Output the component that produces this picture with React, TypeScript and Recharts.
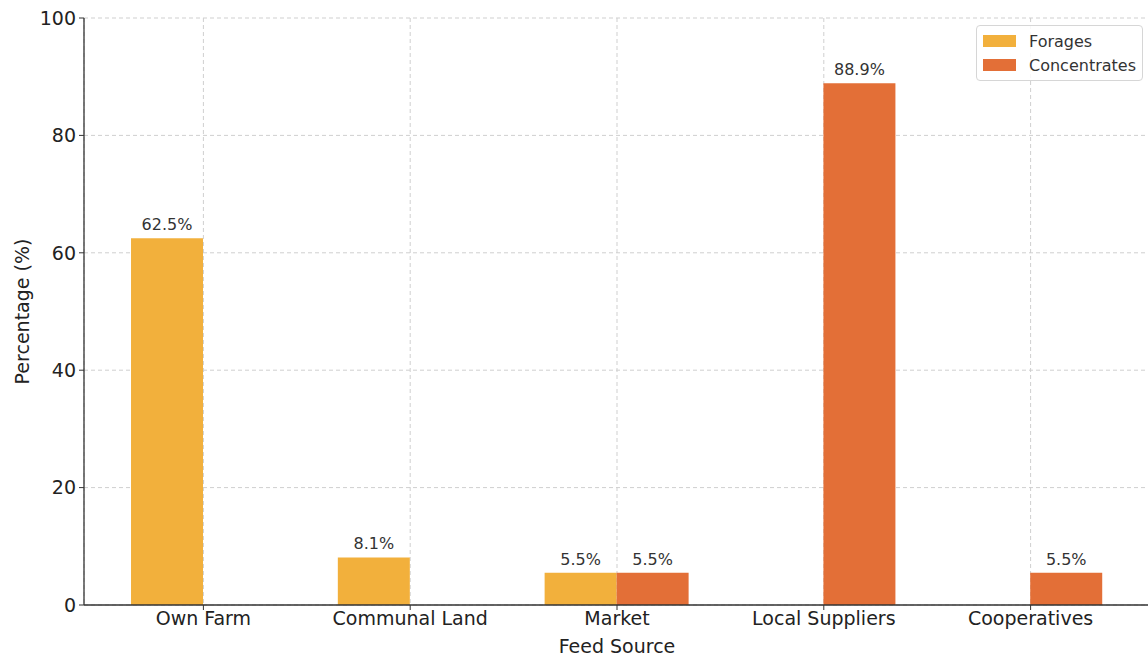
import React from "react";
import { BarChart, Bar, XAxis, YAxis, CartesianGrid, LabelList } from "recharts";

const sources = ["Own Farm", "Communal Land", "Market", "Local Suppliers", "Cooperatives"];
const forages = [62.5, 8.1, 5.5, 0, 0];
const concentrates = [0, 0, 5.5, 88.9, 5.5];
const yTicks = [0, 20, 40, 60, 80, 100];

const FORAGE_COLOR = "#F2B03C";
const CONC_COLOR = "#E36F37";
const FONT = "'DejaVu Sans', sans-serif";

const data = sources.map((name, i) => ({
  name,
  forages: forages[i],
  concentrates: concentrates[i],
}));

const legendItems = [
  { label: "Forages", color: FORAGE_COLOR },
  { label: "Concentrates", color: CONC_COLOR },
];

function ValueLabel(props: any) {
  const { x, y, width, value } = props;
  if (!value) return null;
  return (
    <text x={x + width / 2} y={y - 8} textAnchor="middle" fontSize={16} fill="#333" fontFamily={FONT}>
      {`${value}%`}
    </text>
  );
}

function LegendBox() {
  return (
    <div
      style={{
        position: "absolute",
        left: 976,
        top: 25,
        border: "1px solid #d6d6d6",
        borderRadius: 4,
        background: "rgba(255,255,255,0.85)",
        padding: "3px 6px 3px 6px",
        fontFamily: FONT,
        fontSize: 16,
        color: "#333",
      }}
    >
      {legendItems.map((it) => (
        <div key={it.label} style={{ display: "flex", alignItems: "center", height: 24 }}>
          <span style={{ width: 33, height: 12, background: it.color, marginRight: 13 }} />
          <span>{it.label}</span>
        </div>
      ))}
    </div>
  );
}

export default function App() {
  return (
    <div style={{ position: "absolute", left: 0, top: 0, width: 1148, height: 657, overflow: "hidden", background: "#fff" }}>
      <BarChart
        width={1150}
        height={657}
        data={data}
        margin={{ top: 18, right: 0, left: 0, bottom: 0 }}
        barCategoryGap="15%"
        barGap={0}
      >
        <CartesianGrid stroke="#cfcfcf" strokeDasharray="4 3" />
        <XAxis
          dataKey="name"
          height={52}
          padding={{ left: 16, right: 16 }}
          tick={{ fontSize: 19, fill: "#222", fontFamily: FONT }}
          tickSize={5}
          tickMargin={2}
          axisLine={{ stroke: "#333", strokeWidth: 1.3 }}
          tickLine={{ stroke: "#333" }}
          label={{ value: "Feed Source", position: "insideBottom", offset: 4, fontSize: 19, fill: "#222", fontFamily: FONT }}
        />
        <YAxis
          width={84}
          domain={[0, 100]}
          ticks={yTicks}
          tick={{ fontSize: 19, fill: "#222", fontFamily: FONT }}
          tickSize={5}
          tickMargin={3}
          axisLine={{ stroke: "#333", strokeWidth: 1.3 }}
          tickLine={{ stroke: "#333" }}
          label={{ value: "Percentage (%)", angle: -90, position: "insideLeft", offset: 22, fontSize: 19, fill: "#222", fontFamily: FONT, style: { textAnchor: "middle" } }}
        />
        <Bar dataKey="forages" name="Forages" fill={FORAGE_COLOR} isAnimationActive={false}>
          <LabelList dataKey="forages" content={<ValueLabel />} />
        </Bar>
        <Bar dataKey="concentrates" name="Concentrates" fill={CONC_COLOR} isAnimationActive={false}>
          <LabelList dataKey="concentrates" content={<ValueLabel />} />
        </Bar>
      </BarChart>
      <LegendBox />
    </div>
  );
}
